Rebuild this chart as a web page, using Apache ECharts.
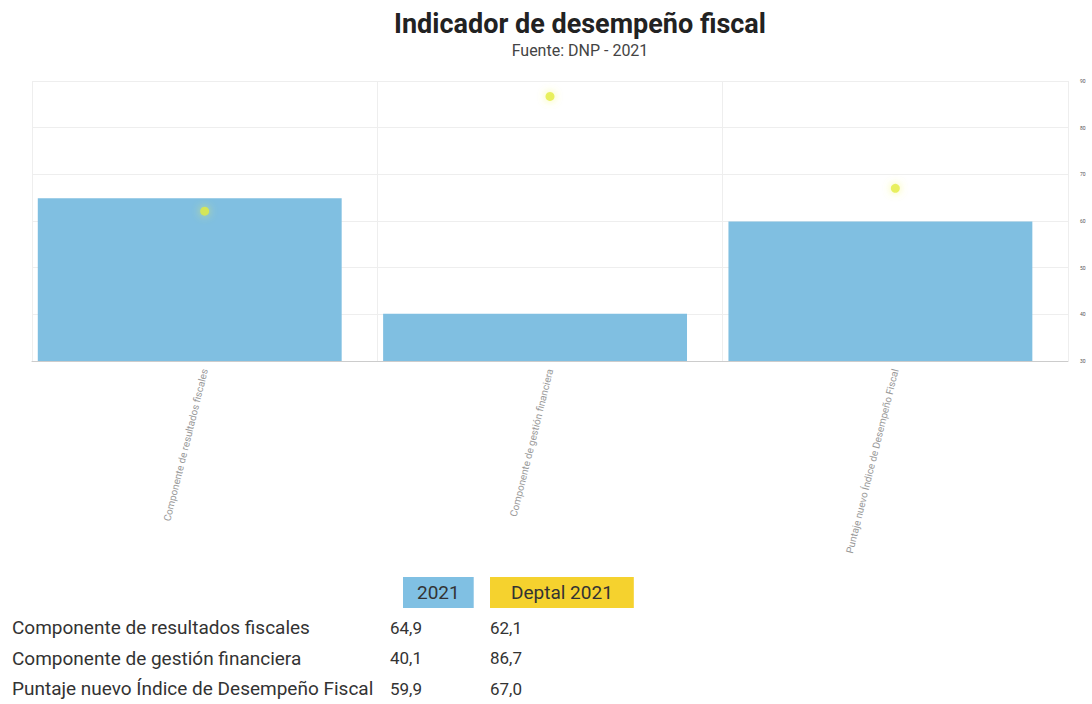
<!DOCTYPE html>
<html><head><meta charset="utf-8">
<script src="https://cdn.jsdelivr.net/npm/echarts@6/dist/echarts.min.js"></script>
<style>html,body{margin:0;padding:0;background:#fff}#c{width:1092px;height:704px}</style>
</head><body><div id="c"></div>
<script>
var categories = ['Componente de resultados fiscales', 'Componente de gestión financiera', 'Puntaje nuevo Índice de Desempeño Fiscal'];
var values2021 = [64.9, 40.1, 59.9];
var valuesDeptal = [62.1, 86.7, 67.0];
var seriesNames = ['2021', 'Deptal 2021'];
var yTicks = [30, 40, 50, 60, 70, 80, 90];

var chart = echarts.init(document.getElementById('c'), null, {renderer: 'svg'});
var fmt = function (v) { return v.toFixed(1).replace('.', ','); };
var font = 'Roboto, "Noto Sans", sans-serif';
var graphics = [];
var colX = [390, 490];
var hdrColors = ['#80c0e3', '#f5d22e'];
var hdrX = [403, 490];
var hdrPad = [14, 21];
seriesNames.forEach(function (n, i) {
  graphics.push({type: 'text', left: hdrX[i], top: 577, style: {
    text: n, fontFamily: font, fontSize: 19, fill: '#333',
    backgroundColor: hdrColors[i], padding: [6, hdrPad[i], 6, hdrPad[i]]}});
});
var series = [values2021, valuesDeptal];
categories.forEach(function (c, r) {
  var y = 618 + r * 30.5;
  graphics.push({type: 'text', left: 12, top: y, style: {text: c, fontFamily: font, fontSize: 19, fill: '#333'}});
  series.forEach(function (s, k) {
    graphics.push({type: 'text', left: colX[k], top: y + 1, style: {text: fmt(s[r]), fontFamily: font, fontSize: 17, fill: '#333'}});
  });
});

chart.setOption({
  animation: false,
  textStyle: {fontFamily: font},
  title: {
    text: 'Indicador de desempeño fiscal',
    subtext: 'Fuente: DNP - 2021',
    left: 575, top: 5, textAlign: 'center',
    textStyle: {fontSize: 27, fontWeight: 'bold', color: '#222'},
    subtextStyle: {fontSize: 16, color: '#444'},
    itemGap: 5
  },
  grid: {left: 32, right: 24, top: 81, bottom: 343, containLabel: false},
  xAxis: {
    type: 'category', data: categories,
    axisLine: {lineStyle: {color: '#ccc'}},
    axisTick: {show: false},
    splitLine: {show: true, lineStyle: {color: '#eee'}},
    axisLabel: {rotate: 76, fontSize: 10, color: '#999', margin: 8, interval: 0}
  },
  yAxis: {
    type: 'value', position: 'right', min: yTicks[0], max: yTicks[yTicks.length - 1], interval: 10,
    axisLine: {show: false}, axisTick: {show: false},
    splitLine: {lineStyle: {color: '#eee'}},
    axisLabel: {fontSize: 5, color: '#555', margin: 12}
  },
  series: [
    {name: seriesNames[0], type: 'bar', data: values2021, barWidth: '88%', barGap: '9.5%',
     itemStyle: {color: '#80bfe1'}},
    {name: 'spacer', type: 'bar', data: ['-', '-', '-'], barWidth: 1, barGap: '9.5%', silent: true},
    {name: seriesNames[1], type: 'scatter', data: valuesDeptal, symbolSize: 9,
     itemStyle: {color: '#e3ec3e', shadowBlur: 8, shadowColor: 'rgba(240,245,80,0.8)'}}
  ],
  graphic: graphics
});
</script></body></html>
